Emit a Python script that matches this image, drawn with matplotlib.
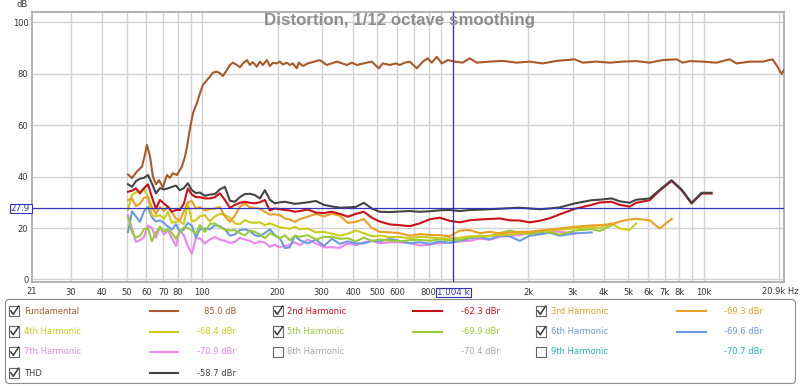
import numpy as np
import matplotlib
matplotlib.use('Agg')
import matplotlib.pyplot as plt
from matplotlib.patches import Rectangle, FancyBboxPatch

plt.rcParams['font.family'] = ['DejaVu Sans']

# ---- data ----
# fundamental trace (Hz, dB)
F_FUND = [50.7, 52.6, 55.0, 57.6, 59.2, 60.3, 62.0, 63.7, 65.5, 67.4, 69.8, 72.5, 74.5, 76.5, 79.4, 83.1, 85.5,
          86.9, 89.5, 92.0, 95.4, 98.1, 100.8, 104.6, 107.5, 110.5, 114.6, 117.8, 121.1, 125.6, 129.2, 132.8,
          137.7, 141.6, 145.5, 151.0, 155.2, 159.5, 165.4, 170.1, 174.8, 181.4, 186.4, 191.6, 198.8, 204.3,
          210.0, 217.8, 223.9, 230.1, 238.7, 243.2, 252.2, 264.1, 294.8, 314.4, 344.6, 377.8, 395.5, 414.2,
          453.8, 475.1, 506.7, 525.6, 560.5, 592.2, 614.4, 643.3, 673.3, 718.3, 758.9, 794.5, 824.1, 862.5,
          903.2, 954.3, 1017, 1095, 1167, 1245, 1402, 1580, 1797, 2024, 2281, 2593, 3059, 3291, 3743, 4217,
          4750, 5402, 6087, 6859, 7798, 8239, 8784, 9897, 11250, 12680, 13520, 15240, 17170, 18810, 19700,
          20430, 20900]
V_FUND = [40.8, 39.4, 42.0, 43.8, 48.5, 52.3, 48.0, 40.0, 37.0, 38.6, 35.8, 40.6, 39.5, 41.3, 40.6, 43.8, 47.7,
          51.0, 58.5, 64.6, 68.6, 72.4, 75.6, 77.5, 78.8, 80.4, 80.8, 80.2, 79.1, 81.4, 83.4, 84.3,
          83.4, 82.5, 84.0, 85.3, 83.4, 84.5, 82.7, 84.7, 83.4, 85.3, 83.0, 84.2, 84.0, 84.7,
          83.6, 84.3, 83.4, 84.0, 82.1, 84.3, 83.0, 84.0, 85.3, 83.4, 84.7, 83.4, 84.3, 83.4,
          84.3, 84.7, 82.1, 84.0, 83.4, 84.0, 83.4, 84.3, 84.7, 82.1, 84.7, 86.0, 84.3, 86.6,
          84.0, 85.3, 84.7, 84.3, 86.0, 84.3, 84.7, 85.0, 84.3, 84.7, 84.0, 85.0, 85.6, 84.3, 84.7, 84.3,
          84.7, 84.9, 84.3, 85.3, 85.6, 84.3, 84.9, 84.7, 84.3, 85.6, 84.0, 84.7, 84.7, 85.6, 82.7,
          79.9, 81.4]

# common frequency grid of the harmonic traces (Hz); each harmonic stops earlier
FREQ_H = [50.7, 52.6, 54.5, 56.6, 58.7, 60.9, 63.1, 65.5, 68.0, 70.5, 73.1, 75.9, 78.7, 81.6, 84.7, 87.8, 91.1, 94.5, 98.1,
          102.7, 107.5, 112.6, 117.8, 123.4, 129.2, 135.2, 141.6, 148.2, 155.2, 162.4, 170.1, 178.0, 186.4, 195.1, 204.3,
          213.9, 223.9, 234.4, 245.4,
          264.1, 284.3, 306.0, 329.3, 354.4, 381.4, 410.4, 441.7, 475.1, 511.3,
          560.5, 614.4, 673.3, 738.0, 808.9, 886.6, 971.8, 1065, 1167, 1280, 1402, 1537, 1685, 1847, 2024, 2219, 2432,
          2666, 3070, 3575, 3848, 4295, 4622, 5067, 5380, 6087, 6672, 7447, 8163, 8948, 9807, 10750]

THD = [37.0, 36.0, 38.2, 39.2, 39.5, 40.6, 37.4, 33.5, 35.5, 35.0, 35.4, 36.0, 36.5, 34.7, 35.5, 37.4, 34.7, 33.6, 33.8,
       32.5, 33.0, 33.2, 35.0, 36.0, 30.6, 30.2, 32.0, 33.2, 33.3, 32.8, 31.5, 34.7, 31.0, 29.6, 30.0, 30.2, 29.8, 29.4, 29.6,
       30.0, 30.5, 29.0, 28.4, 27.9, 28.0, 28.2, 29.8, 27.6, 26.3,
       26.2, 26.4, 26.6, 26.3, 26.5, 26.9, 27.0, 26.6, 27.0, 27.1, 27.3, 27.5, 27.7, 27.9, 27.6, 27.3, 27.6,
       28.0, 29.6, 30.8, 31.0, 31.5, 30.4, 29.8, 31.0, 31.5, 34.8, 38.6, 35.0, 29.8, 33.7, 33.7]
H2 = [34.1, 34.5, 35.4, 33.5, 35.5, 37.0, 32.1, 27.5, 30.9, 29.5, 28.2, 26.3, 27.0, 27.0, 29.5, 35.4, 33.0, 32.0, 32.0,
      31.5, 31.5, 32.0, 33.5, 30.9, 27.8, 29.0, 29.8, 30.2, 29.8, 29.6, 30.0, 30.9, 26.8, 27.6, 27.3, 27.0, 26.8, 26.3, 26.6,
      27.2, 26.0, 25.8, 26.3, 25.5, 24.4, 25.5, 26.3, 24.0, 22.5,
      21.4, 21.1, 20.7, 21.8, 23.4, 24.0, 22.8, 22.2, 23.0, 23.3, 23.5, 23.7, 23.0, 22.9, 22.2, 22.8, 23.8,
      25.3, 27.5, 29.0, 29.9, 30.2, 29.0, 28.3, 29.8, 30.8, 34.5, 38.3, 34.7, 29.5, 33.4, 33.4]
H3 = [30.9, 31.5, 28.5, 29.5, 31.8, 32.1, 28.0, 25.5, 28.2, 26.5, 28.5, 26.0, 23.7, 23.1, 26.5, 30.0, 30.5, 27.6, 28.2,
      26.8, 27.3, 27.6, 28.2, 24.4, 22.4, 24.8, 28.3, 29.6, 28.0, 27.8, 27.5, 26.3, 25.2, 25.3, 25.0, 23.7, 23.3, 22.4, 23.5,
      24.4, 25.5, 24.5, 25.5, 24.8, 22.0, 22.4, 23.5, 20.0, 18.5,
      18.3, 18.0, 17.0, 17.6, 17.3, 17.2, 16.8, 19.0, 19.2, 18.0, 18.5, 17.9, 18.3, 18.5, 18.5, 19.0, 19.5,
      19.8, 20.5, 21.0, 21.1, 21.5, 22.5, 23.3, 23.6, 23.0, 19.8, 23.5]
H4 = [27.0, 33.0, 33.8, 34.1, 35.3, 32.0, 25.0, 24.5, 25.0, 23.5, 26.2, 22.0, 22.5, 22.5, 21.5, 29.8, 22.5, 23.0, 24.6,
      25.0, 22.5, 24.5, 25.5, 25.0, 24.0, 21.8, 21.5, 23.1, 22.2, 22.0, 22.2, 21.1, 21.8, 21.0, 20.3, 20.0, 19.7, 20.5, 19.5,
      19.8, 18.3, 18.5, 17.8, 17.0, 17.8, 19.0, 18.0, 16.8, 17.0,
      16.5, 16.5, 16.0, 16.6, 16.3, 16.0, 16.0, 16.2, 16.8, 16.6, 17.0, 17.3, 17.5, 17.9, 18.4, 18.8, 19.1,
      19.3, 19.9, 20.4, 20.0, 21.8, 19.8, 19.3, 21.8]
H5 = [24.4, 18.3, 16.2, 17.0, 19.5, 20.0, 14.8, 18.3, 20.5, 18.7, 19.5, 18.0, 15.8, 18.5, 20.3, 20.0, 19.0, 17.8, 21.1,
      18.5, 21.5, 21.8, 20.3, 19.4, 19.0, 19.2, 18.0, 17.2, 19.0, 18.5, 17.5, 16.0, 18.0, 17.0, 16.0, 17.2, 15.2, 17.0, 16.6,
      17.2, 15.5, 16.5, 16.6, 15.8, 16.0, 14.8, 16.3, 15.0, 15.5,
      15.2, 14.8, 15.3, 15.4, 15.0, 15.6, 15.2, 15.4, 16.3, 17.0, 16.8, 18.0, 19.0, 18.2, 17.6, 18.5, 18.5,
      17.4, 19.0, 19.6, 18.8, 21.1]
H6 = [18.5, 26.5, 24.5, 22.4, 26.5, 28.2, 24.2, 22.5, 23.0, 22.0, 20.6, 19.3, 21.5, 18.5, 19.5, 22.0, 20.9, 16.3, 19.5,
      19.8, 19.5, 21.1, 20.7, 19.5, 17.0, 17.5, 19.2, 19.5, 18.8, 17.2, 16.8, 18.0, 19.5, 17.2, 16.0, 12.2, 12.5, 17.0, 15.3,
      14.0, 15.5, 13.0, 15.8, 13.8, 14.8, 14.0, 14.0, 15.0, 14.8,
      15.8, 15.0, 14.0, 14.5, 13.8, 14.8, 14.2, 15.0, 16.0, 16.4, 15.6, 17.0, 16.8, 15.0, 17.0, 17.5, 18.2,
      17.0, 17.9, 18.3]
H7 = [25.0, 20.0, 14.6, 15.3, 16.5, 21.0, 20.0, 16.2, 20.5, 17.5, 19.0, 16.0, 13.0, 19.2, 17.0, 13.0, 10.0, 16.0, 16.0,
      14.0, 15.5, 16.5, 15.5, 15.0, 14.2, 14.6, 16.2, 15.5, 15.0, 14.0, 14.8, 14.3, 12.7, 13.5, 12.5, 13.0, 13.5, 14.5, 13.3,
      15.5, 14.0, 12.5, 12.5, 12.3, 14.0, 13.3, 14.5, 15.0, 14.0,
      14.5, 14.4, 14.2, 13.2, 13.5, 14.2, 14.3, 14.8, 15.0, 15.9, 15.4, 16.6, 17.0, 17.3, 18.3, 18.0, 18.7,
      18.5, 18.0]

CURSOR_F = 1004
CURSOR_DB = 27.9

X_GRID = [30, 40, 50, 60, 70, 80, 90, 100, 200, 300, 400, 500, 600, 700, 800, 900,
          1000, 2000, 3000, 4000, 5000, 6000, 7000, 8000, 9000, 10000, 20000]
X_LABELS = ['30', '40', '50', '60', '70', '80', '', '100', '200', '300', '400', '500', '600', '', '800', '',
            '', '2k', '3k', '4k', '5k', '6k', '7k', '8k', '', '10k', '']
Y_TICKS = [0, 20, 40, 60, 80, 100]

LEG_LABELS = ['Fundamental', '2nd Harmonic', '3rd Harmonic',
              '4th Harmonic', '5th Harmonic', '6th Harmonic',
              '7th Harmonic', '8th Harmonic', '9th Harmonic', 'THD']
LEG_VALUES = ['85.0 dB', '-62.3 dBr', '-69.3 dBr',
              '-68.4 dBr', '-69.9 dBr', '-69.6 dBr',
              '-70.9 dBr', '-70.4 dBr', '-70.7 dBr', '-58.7 dBr']
LEG_CHECKED = [True, True, True, True, True, True, True, False, False, True]

C_FUND = '#a9592a'; C2 = '#cc1018'; C3 = '#eaa024'; C4 = '#cccc1c'; C5 = '#9acb38'
C6 = '#6a9ae0'; C7 = '#ee84ee'; C8 = '#a8a8a8'; C9 = '#22b8bc'; C_THD = '#444444'
LEG_COLORS = [C_FUND, C2, C3, C4, C5, C6, C7, C8, C9, C_THD]
CUR = '#3434b4'
TXT = '#333333'

fig = plt.figure(figsize=(8, 3.86), dpi=100)
ax = fig.add_axes([32 / 800, 1 - 282 / 386, 752 / 800, 270 / 386])
ax.set_xscale('log')
ax.set_xlim(21, 20900)
ax.set_ylim(-1, 104)

for vals, col in [(H7, C7), (H6, C6), (H5, C5), (H4, C4), (H3, C3), (H2, C2), (THD, C_THD)]:
    ax.plot(FREQ_H[:len(vals)], vals, color=col, lw=1.5, zorder=3)
ax.plot(F_FUND, V_FUND, color=C_FUND, lw=1.5, zorder=4)

ax.axhline(CURSOR_DB, color=CUR, lw=0.9, zorder=6)
ax.axvline(CURSOR_F, color=CUR, lw=0.9, zorder=6)

ax.set_xticks(X_GRID)
ax.set_xticklabels(X_LABELS)
ax.xaxis.set_minor_locator(matplotlib.ticker.NullLocator())
ax.set_yticks(Y_TICKS)
ax.set_yticklabels([str(v) for v in Y_TICKS])
ax.tick_params(length=0, labelsize=6, labelcolor=TXT)
ax.tick_params(axis='x', pad=4.3)
ax.tick_params(axis='y', pad=2.6)
ax.grid(True, color='#d2d2d2', lw=1.0, zorder=0)
for s in ax.spines.values():
    s.set_color('#acacac'); s.set_linewidth(1.3)

# overlay in pixel coordinates for texts, cursor boxes and legend
ov = fig.add_axes([0, 0, 1, 1], zorder=5)
ov.set_xlim(0, 800); ov.set_ylim(386, 0); ov.axis('off')

ov.text(400, 20.5, 'Distortion, 1/12 octave smoothing', ha='center', va='center',
        fontsize=12.2, fontweight='bold', color='#8e8e8e', family=['Liberation Sans'])
ov.text(22.5, 4.5, 'dB', ha='center', va='center', fontsize=6, color=TXT)
ov.text(32, 292, '21', ha='center', va='center', fontsize=6, color=TXT)
ov.text(780.5, 292, '20.9k Hz', ha='center', va='center', fontsize=6, color=TXT)

ov.add_patch(Rectangle((9.5, 204), 22, 9, fc='white', ec=CUR, lw=0.8))
ov.text(20.5, 208.7, f'{CURSOR_DB:.1f}', ha='center', va='center', fontsize=6.3, color=CUR)
ov.add_patch(Rectangle((436, 287.5), 35, 9.5, fc='white', ec=CUR, lw=0.8))
ov.text(453.5, 292.3, f'{CURSOR_F / 1000:.3f} k', ha='center', va='center', fontsize=6.3, color=CUR)

ov.add_patch(FancyBboxPatch((5.5, 299.5), 790, 84, boxstyle='round,pad=0,rounding_size=4',
                            fc='white', ec='#8c8c8c', lw=0.8))
row_y = [311, 331.5, 352, 373]
col_box = [8.7, 272.7, 535.7]
col_lab = [24, 287.3, 551]
col_line = [(150, 178.3), (413.3, 441.7), (676.7, 705.7)]
col_val = [236, 500, 763.3]
for i, (lab, val, chk, col) in enumerate(zip(LEG_LABELS, LEG_VALUES, LEG_CHECKED, LEG_COLORS)):
    r, c = divmod(i, 3)
    y = row_y[r]
    bx = col_box[c]
    ov.add_patch(Rectangle((bx, y - 5.3), 10.6, 10.6, fc='white', ec='#666666', lw=0.8))
    if chk:
        ov.plot([bx + 2.0, bx + 4.6, bx + 10.0], [y - 0.3, y + 3.3, y - 5.0], color='#3c3c3c', lw=1.1,
                solid_capstyle='round')
        ov.plot(col_line[c], [y, y], color=col, lw=1.5)
    ov.text(col_lab[c], y, lab, ha='left', va='center', fontsize=6, color=col)
    ov.text(col_val[c], y, val, ha='right', va='center', fontsize=6, color=col)

fig.savefig('out.png', dpi=100, facecolor='white')
